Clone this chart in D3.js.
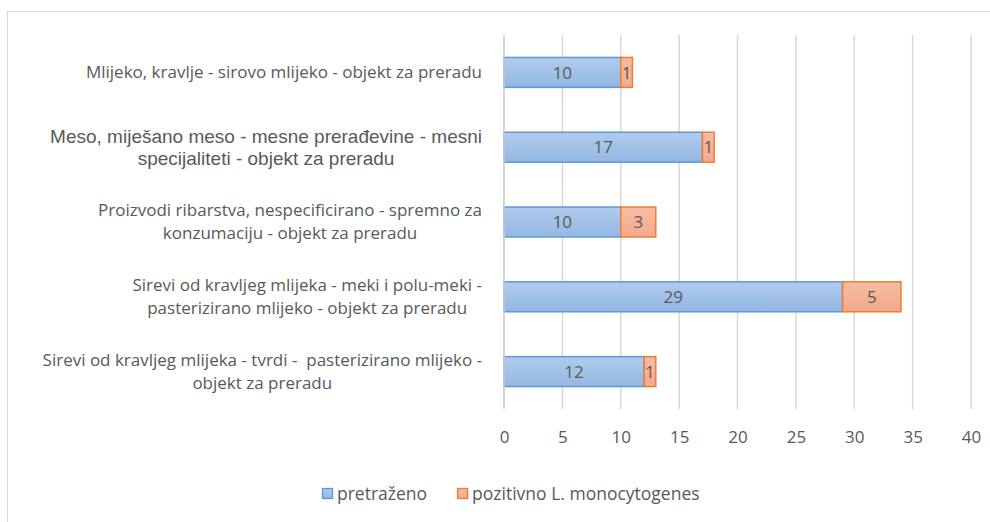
<!DOCTYPE html>
<html>
<head>
<meta charset="utf-8">
<script src="https://cdn.jsdelivr.net/npm/d3@7"></script>
<style>
  body { margin: 0; background: #fff; }
  text { font-family: "Open Sans", Lato, sans-serif; fill: #595959; white-space: pre; }
</style>
</head>
<body>
<div id="chart"></div>
<script>
// categories, each split into the lines shown on the axis
const categories = [
	["Mlijeko, kravlje - sirovo mlijeko - objekt za preradu"],
	["Meso, miješano meso - mesne prerađevine - mesni", "specijaliteti - objekt za preradu"],
	["Proizvodi ribarstva, nespecificirano - spremno za", "konzumaciju - objekt za preradu"],
	["Sirevi od kravljeg mlijeka - meki i polu-meki -", "pasterizirano mlijeko - objekt za preradu"],
	["Sirevi od kravljeg mlijeka - tvrdi -  pasterizirano mlijeko -", "objekt za preradu"]
];
const pretrazeno = [10, 17, 10, 29, 12];
const pozitivno = [1, 1, 3, 5, 1];
const seriesNames = ["pretraženo", "pozitivno L. monocytogenes"];
const xTicks = [0, 5, 10, 15, 20, 25, 30, 35, 40];

const W = 990, H = 522;
const margin = {top: 35, left: 504, right: 19, bottom: 113};

let svg = d3.select("#chart").append("svg")
	.attr("width", W)
	.attr("height", H);

// chart area border
svg.append("rect")
	.attr("x", 7.5).attr("y", 11.5)
	.attr("width", 1000).attr("height", 600)
	.attr("fill", "none")
	.attr("stroke", "#d9d9d9");

let defs = svg.append("defs");
let gBlue = defs.append("linearGradient").attr("id", "gBlue").attr("x1", 0).attr("x2", 0).attr("y1", 0).attr("y2", 1);
gBlue.append("stop").attr("offset", "0%").attr("stop-color", "#b1cbec");
gBlue.append("stop").attr("offset", "100%").attr("stop-color", "#93b7e4");
let gOrange = defs.append("linearGradient").attr("id", "gOrange").attr("x1", 0).attr("x2", 0).attr("y1", 0).attr("y2", 1);
gOrange.append("stop").attr("offset", "0%").attr("stop-color", "#f7bca4");
gOrange.append("stop").attr("offset", "100%").attr("stop-color", "#f3a98c");

let x = d3.scaleLinear().domain([0, 40]).range([margin.left, W - margin.right]);
let y = d3.scaleBand()
	.domain(d3.range(categories.length))
	.range([margin.top, H - margin.bottom])
	.paddingInner(0.6)
	.paddingOuter(0.3);

// gridlines
svg.append("g")
	.selectAll("line")
	.data(xTicks)
	.enter()
	.append("line")
	.attr("x1", d => x(d)).attr("x2", d => x(d))
	.attr("y1", margin.top).attr("y2", H - margin.bottom)
	.attr("stroke", "#d9d9d9")
	.attr("stroke-width", 1.5);

// x axis labels
let xAxis = d3.axisBottom(x).tickValues(xTicks).tickSize(0).tickPadding(22);
let xg = svg.append("g")
	.attr("transform", "translate(0," + (H - margin.bottom) + ")")
	.call(xAxis);
xg.select(".domain").remove();
xg.selectAll("text").style("font-size", "17px").style("font-family", "'Open Sans', sans-serif").attr("fill", "#595959");

// bars
let rows = svg.append("g").selectAll("g")
	.data(categories.map((c, i) => i))
	.enter().append("g");

rows.append("rect")
	.attr("x", x(0))
	.attr("y", i => y(i))
	.attr("width", i => x(pretrazeno[i]) - x(0))
	.attr("height", y.bandwidth())
	.attr("fill", "url(#gBlue)")
	.attr("stroke", "#5b9bd5")
	.attr("stroke-width", 1.5);

rows.append("rect")
	.attr("x", i => x(pretrazeno[i]))
	.attr("y", i => y(i))
	.attr("width", i => x(pretrazeno[i] + pozitivno[i]) - x(pretrazeno[i]))
	.attr("height", y.bandwidth())
	.attr("fill", "url(#gOrange)")
	.attr("stroke", "#ed7d31")
	.attr("stroke-width", 1.5);

rows.append("text")
	.attr("x", i => (x(0) + x(pretrazeno[i])) / 2)
	.attr("y", i => y(i) + y.bandwidth() / 2)
	.attr("dy", "0.36em")
	.attr("text-anchor", "middle")
	.style("font-size", "17px")
	.attr("fill", "#7f7f7f")
	.text(i => pretrazeno[i]);

rows.append("text")
	.attr("x", i => (x(pretrazeno[i]) + x(pretrazeno[i] + pozitivno[i])) / 2)
	.attr("y", i => y(i) + y.bandwidth() / 2)
	.attr("dy", "0.36em")
	.attr("text-anchor", "middle")
	.style("font-size", "17px")
	.attr("fill", "#7f7f7f")
	.text(i => pozitivno[i]);

// y axis line
svg.append("line")
	.attr("x1", x(0)).attr("x2", x(0))
	.attr("y1", margin.top).attr("y2", H - margin.bottom)
	.attr("stroke", "#d0d0d0")
	.attr("stroke-width", 1.5);

// category labels: lines centred within a right-aligned block
const labelRight = 482;
categories.forEach((lines, i) => {
	let arial = (i === 1);
	let g = svg.append("g");
	let lineH = arial ? 22 : 23;
	let cy = y(i) + y.bandwidth() / 2;
	let texts = lines.map((l, k) => g.append("text")
		.attr("text-anchor", "middle")
		.attr("y", cy + (k - (lines.length - 1) / 2) * lineH)
		.attr("dy", "0.35em")
		.style("font-family", arial ? "'Liberation Sans', Arial, sans-serif" : null)
		.style("font-size", arial ? "19px" : "17px")
		.text(l));
	let blockW = d3.max(texts, t => t.node().getComputedTextLength());
	texts.forEach(t => t.attr("x", labelRight - blockW / 2));
});

// legend
let legend = svg.append("g").attr("transform", "translate(322,494)");
let lx = 0;
seriesNames.forEach((name, i) => {
	let item = legend.append("g").attr("transform", "translate(" + lx + ",0)");
	item.append("rect")
		.attr("x", 0.5).attr("y", -5.5)
		.attr("width", 10).attr("height", 10)
		.attr("fill", i === 0 ? "url(#gBlue)" : "url(#gOrange)")
		.attr("stroke", i === 0 ? "#5b9bd5" : "#ed7d31")
		.attr("stroke-width", 1.3);
	let t = item.append("text")
		.attr("x", 15)
		.attr("dy", "0.35em")
		.style("font-size", "17.5px")
		.text(name);
	lx += 15 + t.node().getComputedTextLength() + 30;
});
</script>
</body>
</html>
